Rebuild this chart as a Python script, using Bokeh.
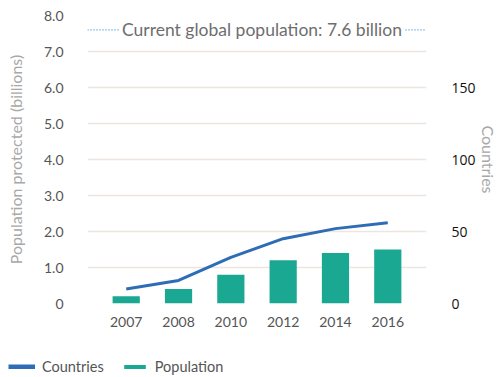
from bokeh.plotting import figure
from bokeh.layouts import column
from bokeh.models import (Range1d, LinearAxis, FixedTicker, Span, Label, Legend,
                          LegendItem, ColumnDataSource)
from bokeh.embed import file_html
from bokeh.resources import INLINE

years = ["2007", "2008", "2010", "2012", "2014", "2016"]
population = [0.2, 0.4, 0.8, 1.2, 1.4, 1.5]
countries = [10, 16, 32, 45, 52, 56]
global_population = 7.6
left_ticks = [0, 1, 2, 3, 4, 5, 6, 7, 8]
right_ticks = [0, 50, 100, 150]

BLUE = "#2f6cb6"
TEAL = "#1aa893"
FONT = "Lato"

xpos = list(range(len(years)))
src = ColumnDataSource(dict(x=xpos, pop=population, cty=countries))

p = figure(width=500, height=335, output_backend="svg", toolbar_location=None,
           x_range=Range1d(-0.74, len(years) - 0.26), y_range=Range1d(0, 8),
           min_border_left=87, min_border_right=72, min_border_top=15,
           min_border_bottom=32)
p.extra_y_ranges = {"c": Range1d(0, 200)}
p.outline_line_color = None
p.background_fill_color = "white"
p.border_fill_color = "white"

# grid
p.xgrid.grid_line_color = None
p.ygrid.grid_line_color = "#ede6df"
p.ygrid.grid_line_width = 1.3


def strip(ax):
    ax.axis_line_color = None
    ax.major_tick_line_color = None
    ax.minor_tick_line_color = None
    ax.major_tick_out = 0
    ax.major_tick_in = 0
    ax.minor_tick_out = 0
    ax.minor_tick_in = 0


# left axis
ya = p.yaxis[0]
strip(ya)
ya.ticker = FixedTicker(ticks=left_ticks)
ya.major_label_overrides = {t: ("0" if t == 0 else f"{t:.1f}") for t in left_ticks}
ya.major_label_text_font = FONT
ya.major_label_text_font_size = "14px"
ya.major_label_text_color = "#555555"
ya.major_label_standoff = 24
ya.axis_label = "Population protected (billions)"
ya.axis_label_text_font = FONT
ya.axis_label_text_font_size = "16px"
ya.axis_label_text_font_style = "normal"
ya.axis_label_text_color = "#a8a8a8"
ya.axis_label_standoff = 16

# x axis
xa = p.xaxis[0]
strip(xa)
xa.ticker = FixedTicker(ticks=xpos)
xa.major_label_overrides = {i: y for i, y in zip(xpos, years)}
xa.major_label_text_font = FONT
xa.major_label_text_font_size = "14px"
xa.major_label_text_color = "#555555"
xa.major_label_standoff = 13

# right axis
ra = LinearAxis(y_range_name="c", ticker=FixedTicker(ticks=right_ticks))
strip(ra)
ra.major_label_text_font = "Open Sans"
ra.major_label_text_font_size = "14px"
ra.major_label_text_color = "#111111"
ra.major_label_standoff = 25
ra.axis_label = "Countries"
ra.axis_label_text_font = FONT
ra.axis_label_text_font_size = "16px"
ra.axis_label_text_font_style = "normal"
ra.axis_label_text_color = "#a8a8a8"
ra.axis_label_standoff = 0
p.add_layout(ra, "right")

p.vbar(x="x", top="pop", width=0.52, source=src, fill_color=TEAL, line_color=None)
p.line(x="x", y="cty", source=src, y_range_name="c", line_color=BLUE, line_width=3)

# global population reference
p.add_layout(Span(location=global_population, dimension="width",
                  line_color="#3a8fd8", line_dash="1 2", line_width=1.3))
p.add_layout(Label(x=(len(years) - 1) / 2, y=global_population, x_offset=5,
                   text=f"Current global population: {global_population} billion",
                   text_align="center", text_baseline="middle", text_font=FONT,
                   text_font_size="17.5px", text_color="#6e6e6e",
                   background_fill_color="white", padding=2))

# legend strip (renderers sit outside this strip's visible ranges)
lg = figure(width=500, height=40, output_backend="svg", toolbar_location=None,
            x_axis_type=None, y_axis_type=None,
            x_range=Range1d(100, 101), y_range=Range1d(100, 101), min_border=0)
lg.grid.grid_line_color = None
lg.outline_line_color = None
lg.background_fill_color = "white"
lg.border_fill_color = "white"
for fig in (p, lg):
    if "frame_align" in fig.properties():
        fig.frame_align = False
l_line = lg.line(x="x", y="cty", source=src, line_color=BLUE, line_width=5)
l_bar = lg.vbar(x="x", top="pop", width=0.5, source=src, fill_color=TEAL,
                line_color=None)
legend = Legend(items=[LegendItem(label="Countries", renderers=[l_line]),
                       LegendItem(label="Population", renderers=[l_bar])],
                orientation="horizontal", location=(8, 0),
                glyph_width=27, glyph_height=5, label_text_font=FONT,
                label_text_font_size="14.5px", label_text_color="#555555",
                padding=0, margin=0, spacing=17, label_standoff=7,
                border_line_color=None, background_fill_alpha=0)
lg.add_layout(legend)

open("out.html", "w").write(file_html(column(p, lg), INLINE))
